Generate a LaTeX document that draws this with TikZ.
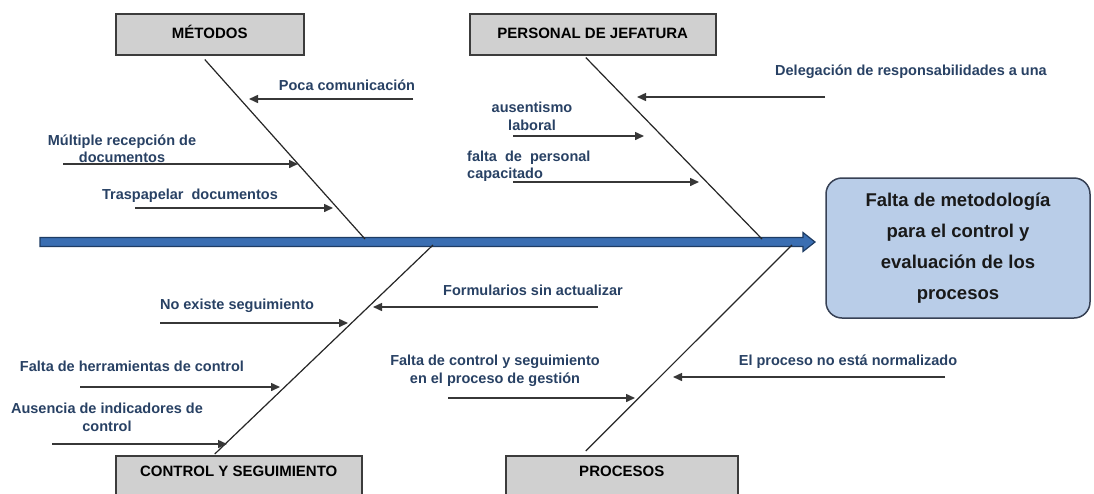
\documentclass[tikz,border=0pt]{standalone}
\usepackage{fontspec}
\setmainfont{Liberation Sans}
\usetikzlibrary{arrows.meta,calc}
\definecolor{causeblue}{RGB}{40,65,100}
\definecolor{boxgray}{RGB}{208,208,208}
\definecolor{boxline}{RGB}{60,60,60}
\definecolor{spineblue}{RGB}{58,110,178}
\definecolor{spineline}{RGB}{30,60,100}
\definecolor{effectfill}{RGB}{185,205,232}
\definecolor{effectline}{RGB}{55,65,85}
\definecolor{arrowgray}{RGB}{55,55,55}
\begin{document}
\begin{tikzpicture}[x=1pt,y=-1pt,
  catbox/.style={draw=boxline, fill=boxgray, line width=1.5pt, inner xsep=0pt, inner ysep=0pt,
    font=\fontsize{15}{18}\selectfont\bfseries, text=black},
  cause/.style={text=causeblue, font=\fontsize{14.5}{17.5}\selectfont\bfseries, inner sep=0pt, align=center},
  bone/.style={draw=black!85, line width=1.2pt},
  causearrow/.style={draw=arrowgray, line width=1.5pt, -{Triangle[length=9pt,width=8pt]}},
  effectbox/.style={draw=effectline, fill=effectfill, line width=1.5pt, rounded corners=16pt,
    minimum width=264pt, minimum height=140pt, inner sep=0pt, align=center,
    font=\fontsize{18.5}{31}\selectfont\bfseries, text=black!90},
  spinestyle/.style={fill=spineblue, draw=spineline, line width=1.2pt, line join=miter}
]
\useasboundingbox[fill=white] (0,0) rectangle (1094,493);

% category boxes
\node[catbox, anchor=north west, minimum width=188pt, text height=24.5pt, text depth=16.5pt] (metodos) at (115,13) {MÉTODOS};
\node[catbox, anchor=north west, minimum width=246pt, text height=24.5pt, text depth=16.5pt] (personal) at (469,13) {PERSONAL DE JEFATURA};
\node[catbox, anchor=north west, minimum width=246pt, text height=21pt, text depth=26pt] (control) at (115,455) {CONTROL Y SEGUIMIENTO};
\node[catbox, anchor=north west, minimum width=232pt, text height=21pt, text depth=26pt] (procesos) at (505,455) {PROCESOS};

% effect
\node[effectbox] (effect) at (958,248) {Falta de metodología\\para el control y\\evaluación de los\\procesos};

% spine
\coordinate (tail) at (40,242);
\coordinate (head) at (815,242);
\filldraw[spinestyle] ($(tail)+(0,-4.5)$) -- ($(head)+(-12,-4.5)$) -- ($(head)+(-12,-9.5)$) -- (head)
  -- ($(head)+(-12,9.5)$) -- ($(head)+(-12,4.5)$) -- ($(tail)+(0,4.5)$) -- cycle;

% bones
\coordinate (mB) at (365,239);
\coordinate (pB) at (762,239);
\coordinate (cB) at (433,245);
\coordinate (prB) at (792,245);
\draw[bone] ($(metodos.south)+(-5,4)$) -- (mB);
\draw[bone] ($(personal.south)+(-7,2)$) -- (pB);
\draw[bone] ($(control.north)+(-24,-1)$) -- (cB);
\draw[bone] ($(procesos.north)+(-36,-4)$) -- (prB);

% causes: METODOS
\node[cause] (pc) at (347,85) {Poca comunicación};
\coordinate (pc1) at (413,99); \coordinate (pc2) at (249,99);
\draw[causearrow] (pc1) -- (pc2);
\node[cause] (mr) at (122,148.5) {Múltiple recepción de\\documentos};
\coordinate (mr1) at (63,164); \coordinate (mr2) at (298,164);
\draw[causearrow] (mr1) -- (mr2);
\node[cause] (tr) at (190,196) {Traspapelar\ \ documentos};
\coordinate (tr1) at (135,208); \coordinate (tr2) at (333,208);
\draw[causearrow] (tr1) -- (tr2);

% causes: PERSONAL DE JEFATURA
\node[cause, anchor=west] (dl) at (775,72) {Delegación de responsabilidades a una};
\coordinate (dl1) at (825,97); \coordinate (dl2) at (637,97);
\draw[causearrow] (dl1) -- (dl2);
\node[cause] (au) at (532,116.5) {ausentismo\\laboral};
\coordinate (au1) at (513,136); \coordinate (au2) at (644,136);
\draw[causearrow] (au1) -- (au2);
\node[cause, anchor=west, align=left] (fp) at (467,166) {falta\ \ de\ \ personal\\capacitado};
\coordinate (fp1) at (513,182); \coordinate (fp2) at (699,182);
\draw[causearrow] (fp1) -- (fp2);

% causes: CONTROL Y SEGUIMIENTO
\node[cause] (ne) at (237,306) {No existe seguimiento};
\coordinate (ne1) at (160,323); \coordinate (ne2) at (348,323);
\draw[causearrow] (ne1) -- (ne2);
\node[cause] (fo) at (533,290) {Formularios sin actualizar};
\coordinate (fo1) at (598,307); \coordinate (fo2) at (373,307);
\draw[causearrow] (fo1) -- (fo2);
\node[cause] (fh) at (132,366) {Falta de herramientas de control};
\coordinate (fh1) at (80,387); \coordinate (fh2) at (280,387);
\draw[causearrow] (fh1) -- (fh2);
\node[cause] (ai) at (107,417.5) {Ausencia de indicadores de\\control};
\coordinate (ai1) at (52,444); \coordinate (ai2) at (227,444);
\draw[causearrow] (ai1) -- (ai2);

% causes: PROCESOS
\node[cause] (fc) at (495,371) {Falta de control y seguimiento\\en el proceso de gestión};
\coordinate (fc1) at (448,398); \coordinate (fc2) at (635,398);
\draw[causearrow] (fc1) -- (fc2);
\node[cause] (ep) at (848,362) {El proceso no está normalizado};
\coordinate (ep1) at (945,377); \coordinate (ep2) at (673,377);
\draw[causearrow] (ep1) -- (ep2);
\end{tikzpicture}
\end{document}
